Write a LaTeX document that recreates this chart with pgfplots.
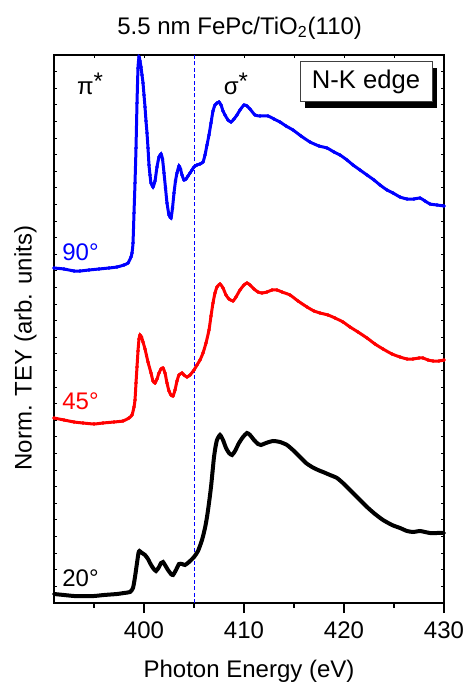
\documentclass[border=0pt]{standalone}
\usepackage{pgfplots}
\pgfplotsset{compat=1.18}
\usepackage{pgfplotstable}
\usepackage{fontspec}
\setmainfont{Liberation Sans}
\usetikzlibrary{shadows}

% N K-edge TEY spectra, offset vertically (arb. units)
\pgfplotstableread{
E v
391.0 335
392.0 334
393.0 332
393.6 332
394.5 333
395.5 334
396.5 335
397.3 336
398.0 338
398.4 340
398.7 346
398.8 350
398.9 360
399.0 390
399.1 420
399.2 455
399.3 500
399.4 535
399.5 546
399.6 542
399.7 536
399.8 528
399.9 520
400.0 508
400.1 496
400.2 482
400.3 470
400.4 455
400.5 438
400.6 428
400.7 420
400.9 416
401.1 422
401.3 436
401.5 446
401.7 449
401.85 444
402.0 430
402.15 415
402.3 400
402.5 388
402.7 385
402.85 395
403.0 410
403.15 422
403.3 430
403.5 437
403.65 434
403.8 428
404.0 423
404.2 424
404.4 427
404.6 430
404.8 433
405.0 436
405.3 438
405.6 439
405.9 441
406.1 448
406.3 458
406.5 468
406.7 480
406.9 492
407.1 498
407.3 500
407.5 501
407.7 498
407.9 492
408.1 488
408.4 483
408.7 481
409.0 484
409.3 488
409.6 493
410.0 498
410.3 497
410.6 494
411.1 488
411.6 487
412.4 487
413.0 484
413.6 481
414.2 477
414.9 473
415.7 467
416.6 461
417.5 457
418.3 455
419.0 451
419.6 448
420.3 443
420.9 438
421.6 433
422.3 428
423.0 423
423.6 418
424.3 413
424.9 410
425.6 406
426.3 404
427.0 404
427.6 405
428.1 402
428.6 399
429.3 398
430.0 397
}\ninety

\pgfplotstableread{
E v
391.0 185
392.0 183
393.0 181
393.9 180
395.0 179
395.9 180
397.0 181
397.9 182
398.5 185
398.8 188
399.0 196
399.1 203
399.2 220
399.3 236
399.4 252
399.5 264
399.6 268
399.75 266
399.9 261
400.1 254
400.4 241
400.7 230
400.9 222
401.1 220
401.3 224
401.5 230
401.7 234
401.9 235
402.1 230
402.3 220
402.5 212
402.7 208
402.9 207
403.1 213
403.3 222
403.5 228
403.8 230
404.0 228
404.3 226
404.6 228
405.0 233
405.3 238
405.6 243
405.9 250
406.2 260
406.5 273
406.7 287
406.9 300
407.1 310
407.3 316
407.6 319
407.9 315
408.2 308
408.5 304
408.9 302
409.2 306
409.6 313
410.0 318
410.3 320
410.6 318
411.0 314
411.4 311
411.8 310
412.3 311
412.8 313
413.3 313
413.8 311
414.6 308
415.4 302
416.3 296
417.0 292
417.6 290
418.4 288
419.1 285
419.9 281
420.6 276
421.4 271
422.3 265
423.1 259
423.9 254
424.8 249
425.6 246
426.3 244
426.9 244
427.5 245
427.9 245
428.4 243
428.9 242
429.5 242
430.0 243
}\fortyfive

\pgfplotstableread{
E v
391.0 9
392.0 8
393.0 7
393.9 7
395.0 7
396.0 8
397.3 9
398.0 10
398.6 11
398.9 15
399.1 26
399.3 40
399.45 50
399.55 52
399.8 50
400.1 48
400.4 44
400.6 40
400.9 35
401.2 32
401.5 36
401.7 40
401.9 41
402.1 38
402.4 33
402.7 29
402.9 28
403.2 33
403.5 39
403.8 39
404.1 38
404.5 41
405.0 46
405.4 52
405.8 63
406.1 75
406.3 86
406.5 100
406.7 116
406.85 131
407.0 146
407.15 156
407.3 163
407.6 168
407.9 163
408.2 155
408.5 150
408.8 148
409.1 152
409.5 160
409.9 166
410.3 170
410.6 168
411.0 163
411.4 159
411.7 158
412.2 160
412.9 162
413.6 161
414.3 158
415.0 152
415.6 146
416.2 140
416.8 136
417.4 133
417.9 131
418.6 128
419.3 125
420.0 119
420.6 113
421.4 105
422.3 96
423.1 89
423.9 83
424.8 78
425.6 75
426.3 72
426.9 71
427.6 72
428.1 71
428.6 70
429.3 70
430.0 70
}\twenty

\begin{document}
\begin{tikzpicture}[font=\fontsize{12}{14}\selectfont]
\path[use as bounding box] (-27pt,-40.5pt) rectangle (205pt,301.5pt);

% inward ticks on top, left and right
\begin{axis}[
  at={(0,0)}, anchor=south west, scale only axis,
  width=195pt, height=274pt,
  xmin=391, xmax=430, ymin=0, ymax=548,
  xtick={395,400,...,430}, xticklabels={}, xtick pos=right,
  ytick={16.6,33.2,...,540}, yticklabels={}, ytick pos=both,
  tick align=inside, major tick length=1.6pt,
  tick style={black, line width=0.5pt},
  axis line style={line width=0.7pt},
]
\end{axis}

\begin{axis}[
  at={(0,0)}, anchor=south west, scale only axis,
  width=195pt, height=274pt,
  xmin=391, xmax=430, ymin=0, ymax=548,
  xtick={400,410,420,430}, minor xtick={395,405,415,425},
  xtick pos=left, ytick=\empty,
  tick align=outside, major tick length=5pt, minor tick length=2.5pt,
  tick style={black, line width=0.6pt},
  axis line style={line width=0.7pt},
  /pgf/number format/assume math mode=true,
  xticklabel style={anchor=base, yshift=-12.7pt, inner sep=0pt},
  xlabel={Photon Energy (eV)},
  xlabel style={at={(axis description cs:0.5,-0.136)}, anchor=base, inner sep=0pt},
  ylabel={Norm. TEY (arb. units)},
  ylabel style={at={(axis description cs:-0.0574,0.465)}, anchor=base, inner sep=0pt},
  title={5.5 nm FePc/TiO\textsubscript{2}(110)},
  every axis title shift=0pt,
  title style={at={(axis description cs:0.476,1.038)}, anchor=base, inner sep=0pt},
  spectrum/.style={smooth, tension=0.35, mark=*, mark size=0.8pt,
                   mark options={line width=0.2pt}},
]
\addplot[blue, line width=0.5pt, dash pattern=on 2pt off 1.2pt] coordinates {(405,0) (405,548)};
\addplot[black, line width=2pt, spectrum] table[x=E, y=v] {\twenty};
\addplot[red, line width=1.5pt, spectrum] table[x=E, y=v] {\fortyfive};
\addplot[blue, line width=1.5pt, spectrum] table[x=E, y=v] {\ninety};
\end{axis}

% angle labels and transition labels
\node[anchor=base west, inner sep=0pt, blue] at (4pt,171pt) {90°};
\node[anchor=base west, inner sep=0pt, red] at (4pt,96.8pt) {45°};
\node[anchor=base west, inner sep=0pt, black] at (4pt,8.5pt) {20°};
\node[anchor=base west, inner sep=0pt] at (11.3pt,254pt) {π\raisebox{2.5pt}{*}};
\node[anchor=base west, inner sep=0pt] at (84.7pt,254pt) {σ\raisebox{2.5pt}{*}};

% edge box with a solid offset shadow
\node[draw=black!75, line width=0.5pt, fill=white, minimum width=66pt, minimum height=20pt,
      inner sep=0pt, font=\fontsize{12.8}{14}\selectfont,
      drop shadow={shadow xshift=2.6pt, shadow yshift=-3pt, fill=black, opacity=1}]
  at (156pt,260.5pt) {N-K edge};
\end{tikzpicture}
\end{document}
